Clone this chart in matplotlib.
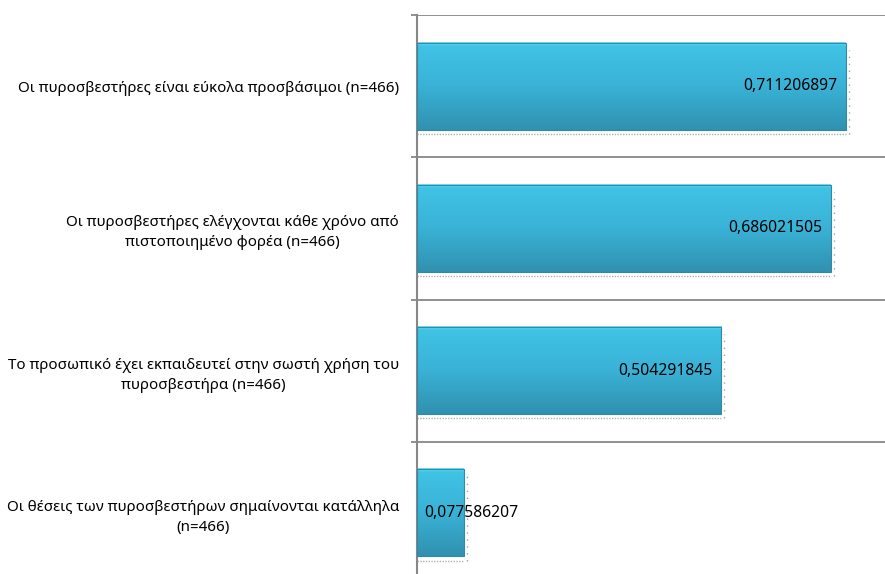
import matplotlib.pyplot as plt
import numpy as np
from matplotlib.colors import LinearSegmentedColormap

# data
kategories = [
    "Οι πυροσβεστήρες είναι εύκολα προσβάσιμοι (n=466)",
    "Οι πυροσβεστήρες ελέγχονται κάθε χρόνο από\nπιστοποιημένο φορέα (n=466)",
    "Το προσωπικό έχει εκπαιδευτεί στην σωστή χρήση του\nπυροσβεστήρα (n=466)",
    "Οι θέσεις των πυροσβεστήρων σημαίνονται κατάλληλα\n(n=466)",
]
times = [0.711206897, 0.686021505, 0.504291845, 0.077586207]

plt.rcParams["font.family"] = ["Noto Sans", "DejaVu Sans"]

W, H = 885, 574
fig = plt.figure(figsize=(W / 100, H / 100), dpi=100)
# plot area: x=0 at 417px, top at 15px, bottom band runs past the image edge
ax = fig.add_axes([417 / W, (H - 584) / H, (W - 417) / W, (584 - 15) / H])

n = len(times)
ypos = np.arange(n)[::-1]
bar_h = 0.613
xmax = (W - 417) / 603

grad_cmap = LinearSegmentedColormap.from_list(
    "bar", [(0, "#74e0f6"), (0.04, "#40c3e6"), (0.5, "#39b2d6"), (1, "#3191b0")]
)
grad = np.linspace(0, 1, 200).reshape(-1, 1)

for y, v in zip(ypos, times):
    # shadow (dotted) under and right of bar
    ax.plot([0, v], [y - bar_h / 2 - 0.03] * 2, color="#b0b0b0", lw=1,
            ls=(0, (1, 1)), zorder=1)
    ax.plot([v + 0.005] * 2, [y - bar_h / 2 - 0.03, y + bar_h / 2 - 0.05],
            color="#a0a0a0", lw=1, ls=(0, (1, 4)), zorder=1)
    ax.imshow(grad, extent=(0, v, y - bar_h / 2, y + bar_h / 2), aspect="auto",
              cmap=grad_cmap, zorder=2, interpolation="bilinear")
    ax.barh(y, v, height=bar_h, color="none", edgecolor="#2e8aa8", lw=0.8,
            zorder=3)

    lbl = f"{v:.9f}".replace(".", ",")
    if v > 0.2:
        ax.annotate(lbl, (v, y), xytext=(-8, 0), textcoords="offset pixels",
                    ha="right", va="center", fontsize=11.3, color="black", zorder=4)
    else:
        ax.annotate(lbl, (0, y), xytext=(7, 0), textcoords="offset pixels",
                    ha="left", va="center", fontsize=11.3, color="black", zorder=4)

ax.set_xlim(0, xmax)
ax.set_ylim(-0.5, n - 0.5)

ax.set_yticks(ypos, kategories)
for t in ax.get_yticklabels():
    t.set_multialignment("center")
    t.set_linespacing(1.45)
ax.set_yticks(np.arange(-0.5, n, 1), minor=True)
ax.tick_params(axis="y", which="major", length=0, pad=13, labelsize=10.9)
ax.tick_params(axis="y", which="minor", length=4, width=1.3, color="#878787")
ax.grid(axis="y", which="minor", color="#878787", lw=1.3)
ax.set_axisbelow(True)

ax.set_xticks([])
for s in ["top", "right", "bottom"]:
    ax.spines[s].set_visible(False)
ax.spines["left"].set_color("#878787")
ax.spines["left"].set_linewidth(1.5)

fig.savefig("out.png", dpi=100)
